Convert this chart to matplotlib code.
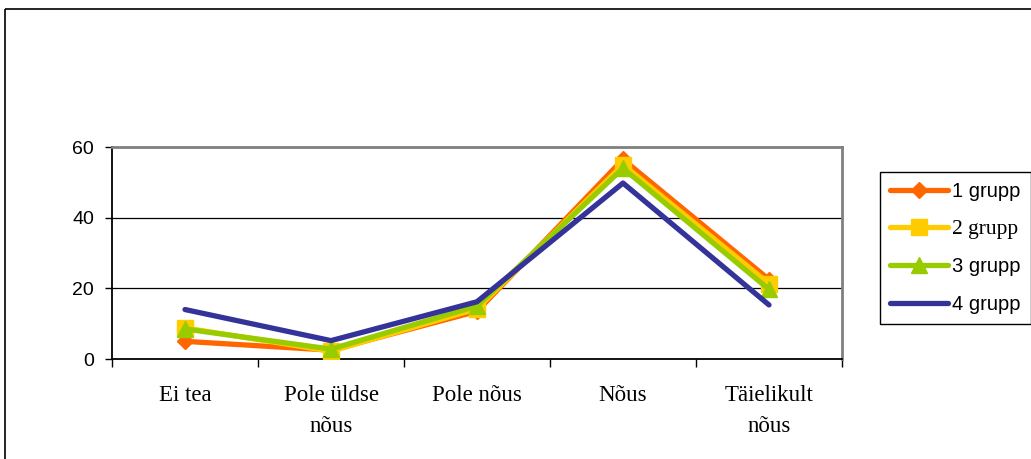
import matplotlib
matplotlib.use("Agg")
import matplotlib.pyplot as plt
from matplotlib.patches import Rectangle

categories = ["Ei tea", "Pole üldse\nnõus", "Pole nõus", "Nõus", "Täielikult\nnõus"]
series_names = ["1 grupp", "2 grupp", "3 grupp", "4 grupp"]
grupp1 = [5.0, 2.5, 13.5, 56.5, 22.5]
grupp2 = [8.8, 2.2, 14.2, 55.0, 21.3]
grupp3 = [8.5, 2.8, 15.0, 54.0, 19.7]
grupp4 = [14.0, 5.2, 16.2, 49.8, 15.3]
y_ticks = [0, 20, 40, 60]

colors = ["#FF6600", "#FFCC00", "#99CC00", "#333399"]
markers = ["D", "s", "^", None]
msizes = [8.5, 11, 11, 0]

W, H = 1031, 459
fig = plt.figure(figsize=(W / 100, H / 100), dpi=100)

# outer chart frame
fig.patches.append(Rectangle((5 / W, 1 - 9 / H), 1.2, -1.2, transform=fig.transFigure,
                             fill=False, edgecolor="black", linewidth=1.2, clip_on=False))

ax = fig.add_axes([112 / W, 1 - 359 / H, 730 / W, 212 / H])
x = list(range(len(categories)))
for vals, name, c, m, ms in zip([grupp1, grupp2, grupp3, grupp4], series_names, colors, markers, msizes):
    ax.plot(x, vals, color=c, lw=3.8, marker=m, markersize=ms, markerfacecolor=c,
            markeredgecolor=c, label=name, solid_joinstyle="round", solid_capstyle="round", zorder=3)

ax.set_xlim(-0.5, len(categories) - 0.5)
ax.set_ylim(0, 60)
ax.set_yticks(y_ticks)
ax.set_yticklabels([str(v) for v in y_ticks], fontsize=14, family="Liberation Sans")
ax.tick_params(axis="y", direction="out", length=5, width=1, pad=8, color="black")

ax.set_xticks([i - 0.5 for i in range(len(categories) + 1)])
ax.set_xticklabels([])
ax.tick_params(axis="x", which="major", direction="out", length=5.5, width=1, color="black")
ax.set_xticks(x, minor=True)
ax.set_xticklabels(categories, minor=True, fontsize=16.5, family="Liberation Serif", linespacing=1.6)
ax.tick_params(axis="x", which="minor", length=0, pad=19)

for v in y_ticks[1:-1]:
    ax.axhline(v, color="black", lw=0.9, zorder=1)

ax.spines["left"].set_color("black")
ax.spines["left"].set_linewidth(1.3)
ax.spines["bottom"].set_color("black")
ax.spines["bottom"].set_linewidth(1.3)
ax.spines["top"].set_color("#808080")
ax.spines["top"].set_linewidth(2)
ax.spines["right"].set_color("#808080")
ax.spines["right"].set_linewidth(2)

leg = ax.legend(loc="upper left", bbox_to_anchor=(880 / W, 1 - 172 / H),
                bbox_transform=fig.transFigure, frameon=True, fancybox=False,
                edgecolor="black", framealpha=1, borderpad=0.5, labelspacing=0.92,
                handlelength=2.9, handletextpad=0.2, borderaxespad=0,
                prop={"family": "Liberation Sans", "size": 14.5})
leg.get_frame().set_linewidth(1.0)
for i, t in enumerate(leg.get_texts()):
    if i == 1:
        t.set_family("Liberation Serif")
        t.set_fontsize(15.5)

fig.savefig("out.png", dpi=100)
